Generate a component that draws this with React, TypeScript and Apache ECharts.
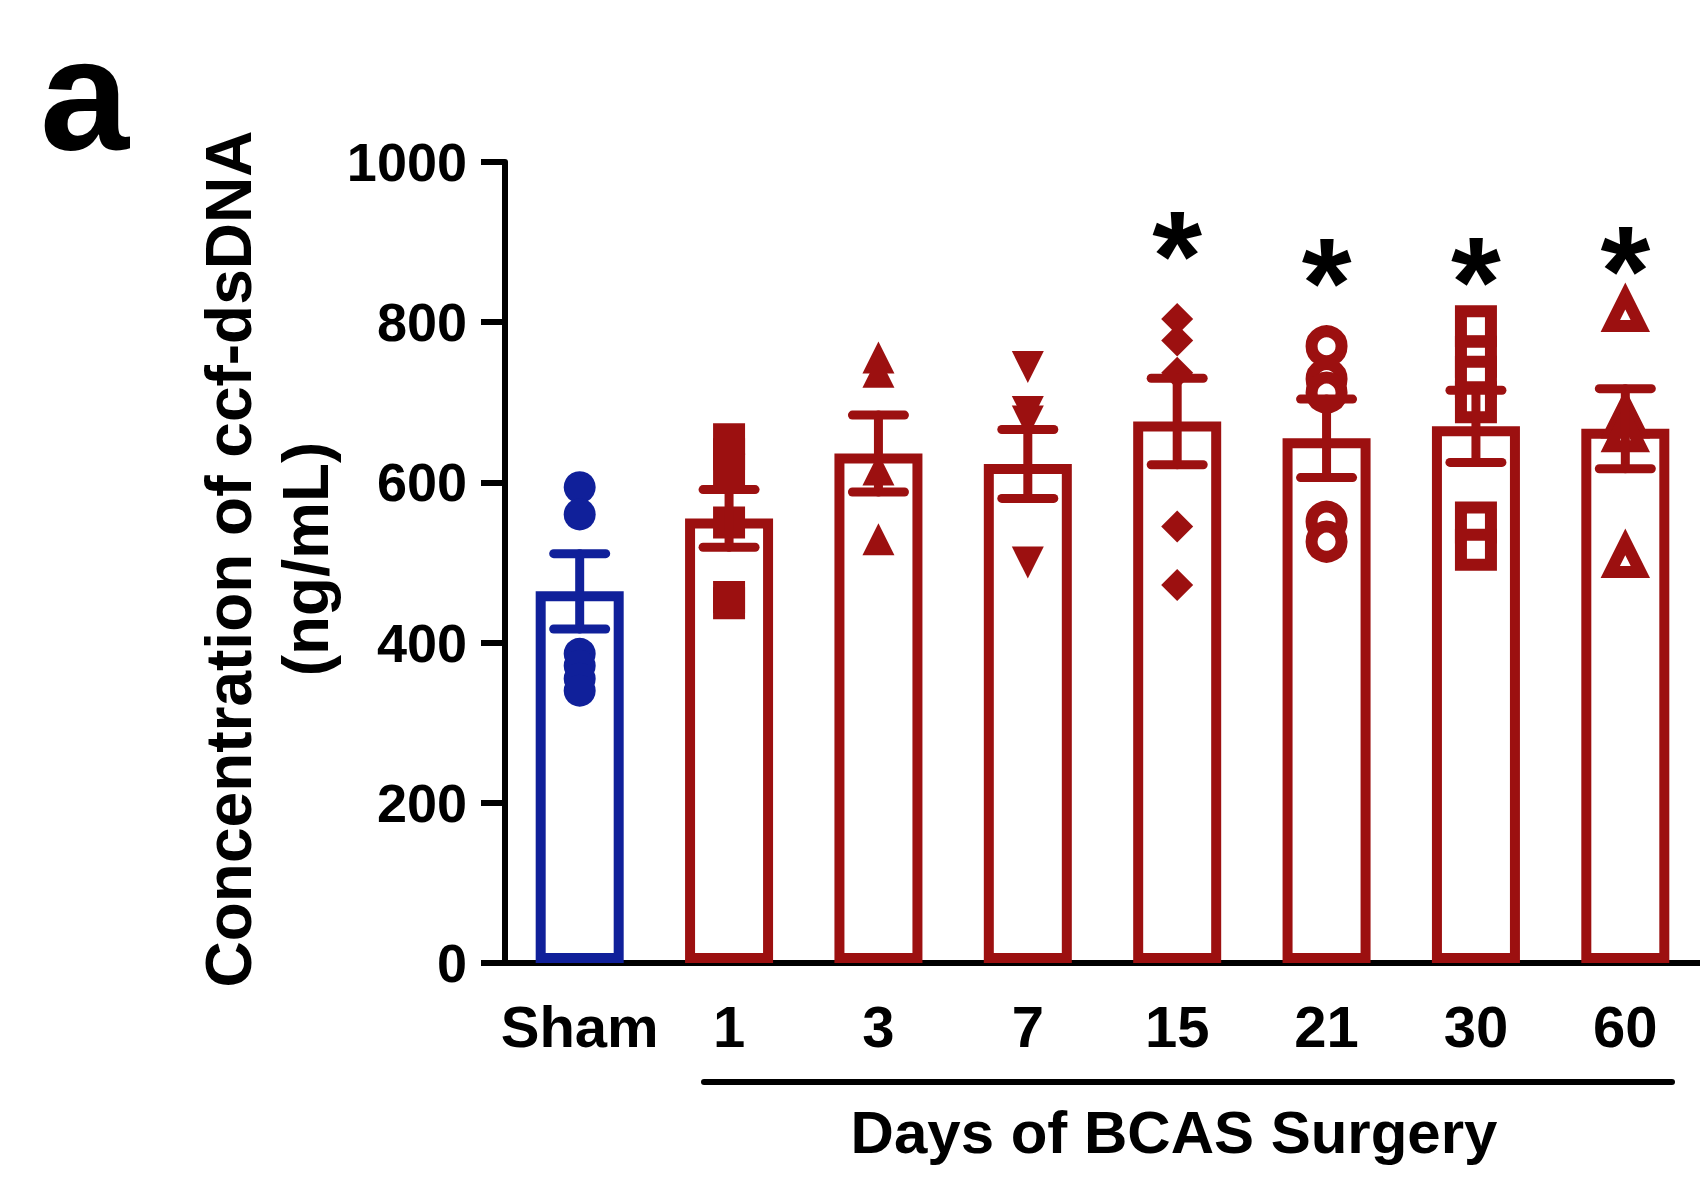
import React, { useEffect, useRef } from "react";
import * as echarts from "echarts";

const categories = ["Sham", "1", "3", "7", "15", "21", "30", "60"];
const means = [464, 555, 636, 623, 676, 655, 670, 667];
const sems = [47, 36, 48, 43, 54, 49, 45, 50];

const shamPts = [594, 560, 386, 371, 355, 340];
const d1Pts = [654, 635, 616, 550, 457, 449];
const d3Pts = [756, 738, 616, 529];
const d7Pts = [744, 688, 676, 500];
const d15Pts = [804, 777, 737, 545, 472];
const d21Pts = [770, 729, 712, 551, 526];
const d30Pts = [795, 757, 732, 700, 550, 516];
const d60Pts = [814, 681, 664, 507];

const starCats = ["15", "21", "30", "60"];
const starVals = [883, 849, 851, 865];

const yTicks = [0, 200, 400, 600, 800, 1000];

const BLUE = "#10209a";
const RED = "#9c1010";
const FONT = "'Liberation Sans', Arial, Helvetica, sans-serif";

export default function App() {
  const ref = useRef<HTMLDivElement>(null);

  useEffect(() => {
    if (!ref.current) return;
    const chart = echarts.init(ref.current, undefined, { renderer: "svg" });
    const colorOf = (i: number) => (i === 0 ? BLUE : RED);

    const groups = [
      { pts: shamPts, symbol: "circle", rotate: 0, open: false },
      { pts: d1Pts, symbol: "rect", rotate: 0, open: false },
      { pts: d3Pts, symbol: "triangle", rotate: 0, open: false },
      { pts: d7Pts, symbol: "triangle", rotate: 180, open: false },
      { pts: d15Pts, symbol: "diamond", rotate: 0, open: false },
      { pts: d21Pts, symbol: "circle", rotate: 0, open: true },
      { pts: d30Pts, symbol: "rect", rotate: 0, open: true },
      { pts: d60Pts, symbol: "triangle", rotate: 0, open: true },
    ];

    const scatterSeries = groups.map((g, i) => ({
      type: "scatter",
      z: 3,
      symbol: g.symbol,
      symbolRotate: g.rotate,
      symbolSize: g.open ? 30 : 32,
      itemStyle: g.open
        ? { color: "#ffffff", borderColor: colorOf(i), borderWidth: 12, opacity: 1 }
        : { color: colorOf(i), opacity: 1 },
      data: g.pts.map((v) => [i, v]),
    }));

    const option: any = {
      animation: false,
      backgroundColor: "#ffffff",
      grid: { left: 505, top: 162, width: 1200, height: 801, containLabel: false },
      xAxis: {
        type: "category",
        data: categories,
        axisLine: { lineStyle: { color: "#000", width: 6 } },
        axisTick: { alignWithLabel: true, length: 24, lineStyle: { color: "#000", width: 6 } },
        axisLabel: {
          color: "#000",
          fontSize: 58,
          fontWeight: "bold",
          fontFamily: FONT,
          margin: 34,
          interval: 0,
        },
        splitLine: { show: false },
      },
      yAxis: {
        type: "value",
        min: yTicks[0],
        max: yTicks[yTicks.length - 1],
        interval: 200,
        axisLine: { show: true, lineStyle: { color: "#000", width: 6 } },
        axisTick: { show: true, length: 24, lineStyle: { color: "#000", width: 6 } },
        axisLabel: {
          color: "#000",
          fontSize: 54,
          fontWeight: "bold",
          fontFamily: FONT,
          margin: 38,
          formatter: (v: number) => String(v),
        },
        splitLine: { show: false },
      },
      series: [
        {
          type: "bar",
          z: 2,
          barWidth: 88,
          data: means.map((v, i) => ({
            value: v,
            itemStyle: { color: "#ffffff", borderColor: colorOf(i), borderWidth: 10 },
          })),
        },
        ...scatterSeries,
        {
          type: "custom",
          z: 4,
          data: means.map((m, i) => [i, m - sems[i], m + sems[i]]),
          renderItem: (params: any, api: any) => {
            const idx = api.value(0);
            const lo = api.coord([idx, api.value(1)]);
            const hi = api.coord([idx, api.value(2)]);
            const hw = 26;
            const c = colorOf(params.dataIndex);
            const st = { stroke: c, lineWidth: 9, lineCap: "round" };
            return {
              type: "group",
              children: [
                { type: "line", shape: { x1: lo[0], y1: lo[1], x2: hi[0], y2: hi[1] }, style: st },
                { type: "line", shape: { x1: lo[0] - hw, y1: lo[1], x2: lo[0] + hw, y2: lo[1] }, style: st },
                { type: "line", shape: { x1: hi[0] - hw, y1: hi[1], x2: hi[0] + hw, y2: hi[1] }, style: st },
              ],
            };
          },
        },
        {
          type: "scatter",
          z: 5,
          symbolSize: 0,
          silent: true,
          itemStyle: { opacity: 1 },
          data: starCats.map((c, i) => [categories.indexOf(c), starVals[i]]),
          label: {
            show: true,
            position: "inside",
            formatter: "*",
            color: "#000",
            opacity: 1,
            fontSize: 128,
            fontWeight: "bold",
            fontFamily: FONT,
          },
        },
      ],
      graphic: [
        {
          type: "text",
          x: 40,
          y: 93,
          style: {
            text: "a",
            fill: "#000",
            font: `bold 160px ${FONT}`,
            textAlign: "left",
            textVerticalAlign: "middle",
          },
        },
        {
          type: "text",
          x: 267,
          y: 559,
          rotation: Math.PI / 2,
          style: {
            text: "Concentration of ccf-dsDNA\n(ng/mL)",
            fill: "#000",
            font: `bold 64px ${FONT}`,
            lineHeight: 77,
            textAlign: "center",
            textVerticalAlign: "middle",
          },
        },
        {
          type: "line",
          shape: { x1: 704, y1: 1082, x2: 1672, y2: 1082 },
          style: { stroke: "#000", lineWidth: 6, lineCap: "round" },
        },
        {
          type: "text",
          x: 1174,
          y: 1132,
          style: {
            text: "Days of BCAS Surgery",
            fill: "#000",
            font: `bold 60px ${FONT}`,
            textAlign: "center",
            textVerticalAlign: "middle",
          },
        },
      ],
    };

    chart.setOption(option);
    return () => chart.dispose();
  }, []);

  return (
    <div
      ref={ref}
      style={{ position: "absolute", left: 0, top: 0, width: 1700, height: 1185, background: "#fff" }}
    />
  );
}
